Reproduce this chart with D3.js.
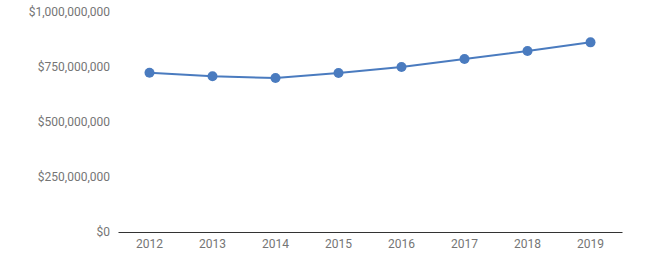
<!DOCTYPE html>
<html lang="en">
<head>
  <meta charset="UTF-8">
  <title>Yearly totals</title>
  <script src="https://d3js.org/d3.v7.min.js"></script>
  <style>
    body { margin: 0; background: #fff; }
    text { font-family: Roboto, "Noto Sans", sans-serif; }
  </style>
</head>
<body>
  <div id="chart"></div>
  <script>
    // Data
    const years = ['2012', '2013', '2014', '2015', '2016', '2017', '2018', '2019'];
    const totals = [724e6, 708e6, 700e6, 723e6, 750e6, 786e6, 823e6, 862e6];
    const yTicks = [0, 250e6, 500e6, 750e6, 1000e6];

    const width = 647;
    const height = 263;
    const margin = { top: 12, right: 25, bottom: 31, left: 118 };

    const svg = d3.select('#chart')
      .append('svg')
      .attr('width', width)
      .attr('height', height);

    const x = d3.scaleBand()
      .domain(years)
      .range([margin.left, width - margin.right]);

    const y = d3.scaleLinear()
      .domain([0, 1000e6])
      .range([height - margin.bottom, margin.top]);

    const fmt = v => '$' + d3.format(',')(v);

    // y labels (no axis line)
    svg.append('g')
      .selectAll('text')
      .data(yTicks)
      .join('text')
      .attr('x', 110)
      .attr('y', d => y(d))
      .attr('dy', '0.35em')
      .attr('text-anchor', 'end')
      .attr('font-size', 12)
      .attr('fill', '#757575')
      .text(fmt);

    // x axis
    const xAxis = svg.append('g')
      .attr('transform', `translate(0,${y(0)})`)
      .call(d3.axisBottom(x).tickSize(0).tickPadding(7));
    xAxis.select('.domain').attr('stroke', '#333').attr('stroke-width', 1.2);
    xAxis.selectAll('text')
      .attr('font-size', 12)
      .attr('fill', '#757575')
      .style('font-family', 'Roboto, sans-serif');

    const cx = d => x(d) + x.bandwidth() / 2;

    const line = d3.line()
      .x((d, i) => cx(years[i]))
      .y(d => y(d));

    svg.append('path')
      .datum(totals)
      .attr('fill', 'none')
      .attr('stroke', '#4a7bbf')
      .attr('stroke-width', 2)
      .attr('d', line);

    svg.selectAll('circle')
      .data(totals)
      .join('circle')
      .attr('cx', (d, i) => cx(years[i]))
      .attr('cy', d => y(d))
      .attr('r', 5)
      .attr('fill', '#4a7bbf');
  </script>
</body>
</html>
